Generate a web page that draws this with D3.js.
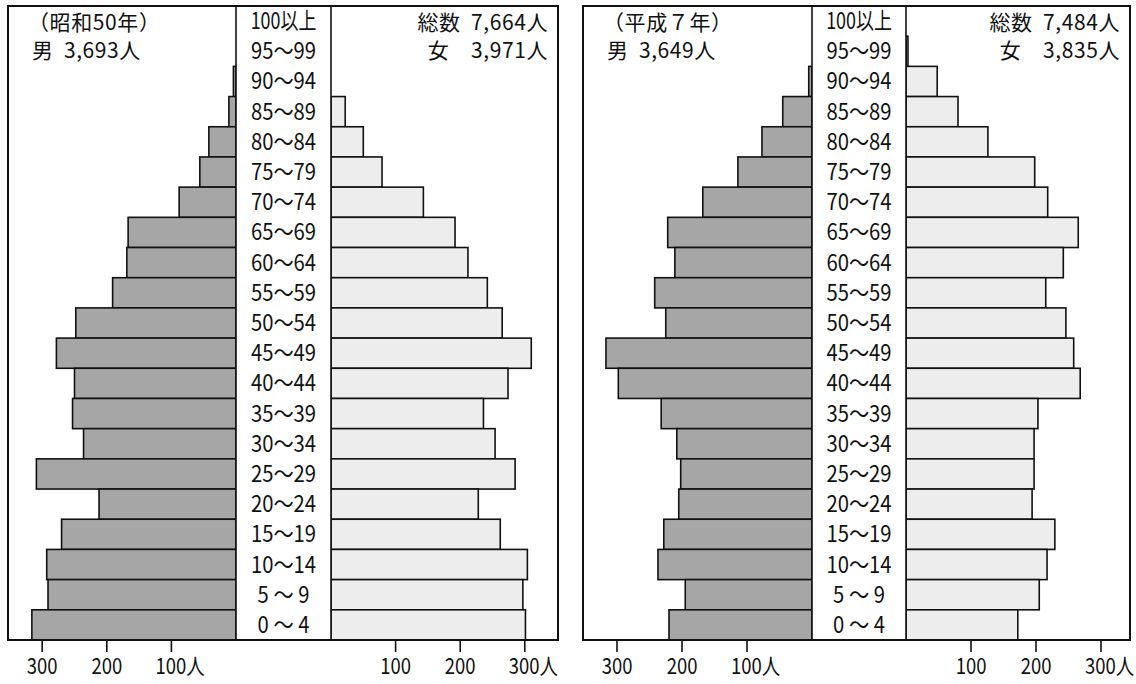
<!DOCTYPE html>
<html>
<head>
<meta charset="utf-8">
<script src="https://cdn.jsdelivr.net/npm/d3@7"></script>
<style>
  body { margin: 0; background: #fff; }
  svg { display: block; }
  text { font-family: "Noto Sans CJK JP", "Noto Sans", sans-serif; fill: #111; }
</style>
</head>
<body>
<svg id="chart" width="1136" height="684"></svg>
<script>
// age groups, top to bottom
const ageGroups = ['100以上', '95〜99', '90〜94', '85〜89', '80〜84', '75〜79', '70〜74', '65〜69',
  '60〜64', '55〜59', '50〜54', '45〜49', '40〜44', '35〜39', '30〜34', '25〜29', '20〜24',
  '15〜19', '10〜14', '5 〜 9', '0 〜 4'];

// 昭和50年 (persons)
const male1975 = [0, 0, 4, 11, 42, 56, 88, 167, 169, 191, 248, 278, 250, 253, 236, 309, 212, 270, 293, 291, 316];
const female1975 = [0, 0, 0, 22, 50, 79, 143, 192, 212, 242, 265, 310, 274, 236, 254, 285, 228, 262, 304, 297, 301];
// 平成7年 (persons)
const male1995 = [0, 0, 5, 45, 77, 114, 168, 222, 211, 242, 225, 317, 298, 232, 208, 202, 205, 228, 237, 195, 220];
const female1995 = [0, 3, 48, 80, 126, 198, 218, 265, 242, 215, 246, 258, 268, 203, 197, 197, 194, 229, 217, 205, 172];

const tickValues = [100, 200, 300];
const maleTickLabels = ['100人', '200', '300'];
const femaleTickLabels = ['100', '200', '300人'];

const panels = [
  { left: 8, right: 558, colL: 236, colR: 331, unit: 64.6, male: male1975, female: female1975,
    title: '（昭和50年）', maleText: '男 3,693人', totalText: '総数 7,664人', femaleText: '女　3,971人' },
  { left: 583, right: 1130, colL: 812, colR: 906, unit: 65, male: male1995, female: female1995,
    title: '（平成７年）', maleText: '男 3,649人', totalText: '総数 7,484人', femaleText: '女　3,835人' }
];

const topY = 6, bottomY = 640;
const svg = d3.select('#chart');

const y = d3.scaleBand().domain(ageGroups).range([topY, bottomY]).padding(0);

panels.forEach(p => {
  const g = svg.append('g').attr('class', 'panel');
  const xMale = d3.scaleLinear().domain([0, 300]).range([p.colL, p.colL - 3 * p.unit]);
  const xFemale = d3.scaleLinear().domain([0, 300]).range([p.colR, p.colR + 3 * p.unit]);

  // male bars
  g.selectAll('rect.male')
    .data(ageGroups.map((a, i) => ({ age: a, v: p.male[i] })).filter(d => d.v > 0))
    .join('rect')
    .attr('class', 'male')
    .attr('x', d => xMale(d.v))
    .attr('y', d => y(d.age))
    .attr('width', d => xMale(0) - xMale(d.v))
    .attr('height', y.bandwidth())
    .attr('fill', '#a6a6a6')
    .attr('stroke', '#111')
    .attr('stroke-width', 1.6);

  // female bars
  g.selectAll('rect.female')
    .data(ageGroups.map((a, i) => ({ age: a, v: p.female[i] })).filter(d => d.v > 0))
    .join('rect')
    .attr('class', 'female')
    .attr('x', xFemale(0))
    .attr('y', d => y(d.age))
    .attr('width', d => xFemale(d.v) - xFemale(0))
    .attr('height', y.bandwidth())
    .attr('fill', '#ededed')
    .attr('stroke', '#111')
    .attr('stroke-width', 1.6);

  // centre column
  g.append('rect')
    .attr('x', p.colL)
    .attr('y', topY)
    .attr('width', p.colR - p.colL)
    .attr('height', bottomY - topY)
    .attr('fill', '#fff')
    .attr('stroke', '#111')
    .attr('stroke-width', 1.6);

  const cx = (p.colL + p.colR) / 2;
  g.selectAll('text.age')
    .data(ageGroups)
    .join('text')
    .attr('class', 'age')
    .attr('transform', d => `translate(${cx},${y(d) + y.bandwidth() / 2 + 8}) scale(${d === '100以上' ? 0.78 : 0.88},1)`)
    .attr('text-anchor', 'middle')
    .style('font-size', '23px')
    .text(d => d);

  // frame
  g.append('rect')
    .attr('x', p.left)
    .attr('y', topY)
    .attr('width', p.right - p.left)
    .attr('height', bottomY - topY)
    .attr('fill', 'none')
    .attr('stroke', '#111')
    .attr('stroke-width', 2);

  // header texts
  const hdr = [
    { t: p.title, x: p.left + 20, y: 30, a: 'start' },
    { t: p.maleText, x: p.left + 24, y: 58, a: 'start' },
    { t: p.totalText, x: p.right - 10, y: 30, a: 'end' },
    { t: p.femaleText, x: p.right - 10, y: 58, a: 'end' }
  ];
  g.selectAll('text.hdr')
    .data(hdr)
    .join('text')
    .attr('class', 'hdr')
    .attr('x', d => d.x)
    .attr('y', d => d.y)
    .attr('text-anchor', d => d.a)
    .style('font-size', '21px')
    .style('letter-spacing', '0.6px')
    .style('word-spacing', '5px')
    .text(d => d.t);

  // axes
  const drawAxis = (scale, labels) => {
    const ax = g.append('g').attr('transform', `translate(0,${bottomY})`);
    ax.selectAll('line')
      .data(tickValues)
      .join('line')
      .attr('x1', d => scale(d))
      .attr('x2', d => scale(d))
      .attr('y1', 0)
      .attr('y2', 12)
      .attr('stroke', '#111')
      .attr('stroke-width', 1.6);
    ax.selectAll('text')
      .data(tickValues)
      .join('text')
      .attr('transform', d => `translate(${scale(d)},34) scale(0.84,1)`)
      .attr('text-anchor', (d, i) => labels[i].includes('人') ? 'start' : 'middle')
      .attr('x', (d, i) => labels[i].includes('人') ? -19 : 0)
      .style('font-size', '22px')
      .text((d, i) => labels[i]);
  };
  drawAxis(xMale, maleTickLabels);
  drawAxis(xFemale, femaleTickLabels);
});
</script>
</body>
</html>
